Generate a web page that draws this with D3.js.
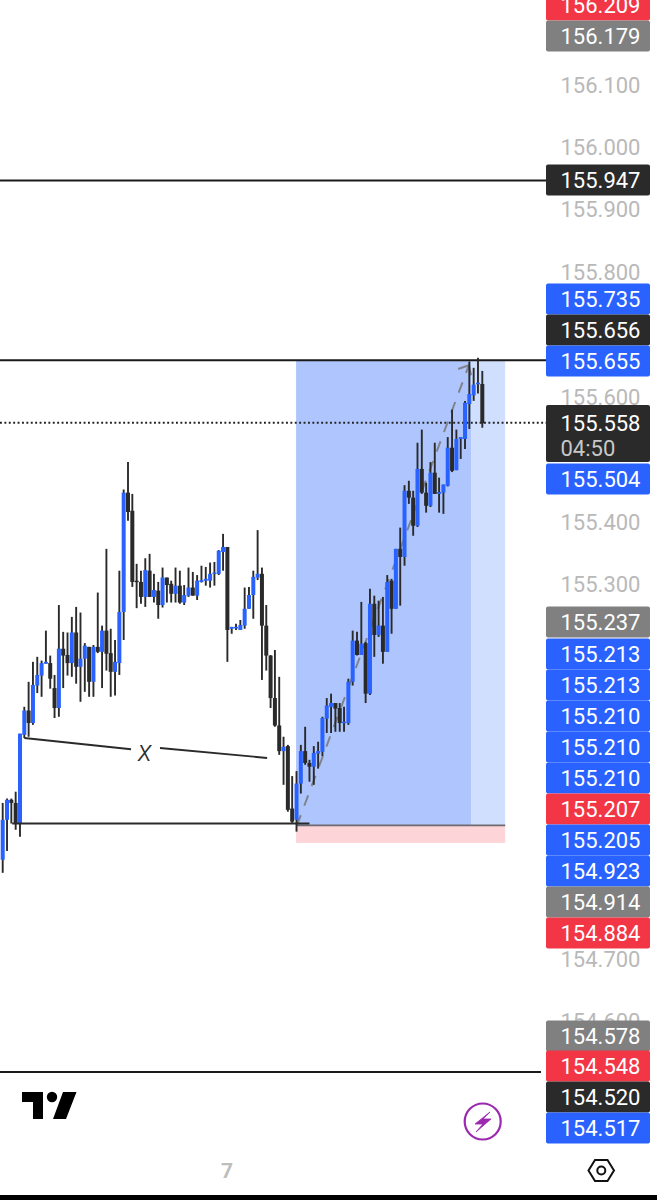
<!DOCTYPE html>
<html><head><meta charset="utf-8">
<script src="https://d3js.org/d3.v7.min.js"></script>
<style>html,body{margin:0;padding:0;background:#fff}svg{display:block}</style>
</head><body><div id="chart"></div>
<script>
// candle series: open, high, low, close
const opens=[154.859,154.923,154.955,154.950,154.917,155.059,155.098,155.078,155.138,155.154,155.173,155.174,155.134,155.102,155.197,155.187,155.174,155.223,155.168,155.181,155.200,155.144,155.200,155.192,155.226,155.190,155.160,155.174,155.256,155.447,155.418,155.306,155.304,155.280,155.322,155.280,155.290,155.267,155.311,155.301,155.285,155.298,155.271,155.282,155.295,155.282,155.304,155.306,155.306,155.317,155.317,155.352,155.360,155.229,155.231,155.227,155.234,155.261,155.283,155.311,155.317,155.234,155.186,155.118,155.074,155.033,155.041,154.941,154.923,154.981,155.033,155.014,155.008,155.029,155.032,155.085,155.104,155.110,155.102,155.078,155.078,155.144,155.210,155.187,155.206,155.125,155.269,155.219,155.234,155.192,155.306,155.261,155.357,155.344,155.450,155.439,155.394,155.485,155.447,155.426,155.479,155.445,155.447,155.458,155.519,155.483,155.533,155.533,155.589,155.603,155.621,155.621];
const highs=[154.950,154.957,154.957,154.968,155.061,155.104,155.144,155.176,155.184,155.178,155.226,155.186,155.155,155.267,155.224,155.223,155.248,155.264,155.255,155.206,155.200,155.203,155.287,155.234,155.357,155.229,155.211,155.322,155.452,155.496,155.445,155.333,155.322,155.342,155.349,155.317,155.304,155.327,155.311,155.306,155.327,155.322,155.299,155.327,155.320,155.315,155.330,155.328,155.335,155.336,155.355,155.381,155.360,155.232,155.237,155.243,155.295,155.296,155.322,155.387,155.327,155.267,155.187,155.195,155.152,155.056,155.043,154.993,155.001,155.043,155.072,155.019,155.041,155.048,155.088,155.118,155.125,155.110,155.110,155.104,155.149,155.226,155.224,155.272,155.208,155.293,155.282,155.274,155.280,155.315,155.309,155.357,155.391,155.459,155.466,155.450,155.527,155.548,155.463,155.496,155.527,155.471,155.460,155.536,155.580,155.548,155.536,155.594,155.657,155.647,155.663,155.642];
const lows=[154.838,154.873,154.917,154.907,154.896,155.054,155.056,155.075,155.126,155.120,155.173,155.133,155.086,155.088,155.134,155.154,155.152,155.141,155.112,155.128,155.120,155.120,155.190,155.134,155.162,155.120,155.122,155.155,155.211,155.402,155.296,155.262,155.269,155.264,155.280,155.271,155.245,155.263,155.271,155.271,155.271,155.269,155.267,155.280,155.282,155.275,155.303,155.298,155.295,155.298,155.315,155.322,155.176,155.221,155.227,155.227,155.229,155.261,155.245,155.307,155.147,155.162,155.102,155.072,155.027,154.979,154.936,154.918,154.904,154.965,155.011,154.984,154.979,155.005,155.025,155.062,155.062,155.064,155.064,155.064,155.075,155.138,155.186,155.187,155.110,155.123,155.184,155.216,155.173,155.192,155.221,155.261,155.266,155.330,155.429,155.378,155.392,155.445,155.415,155.424,155.445,155.415,155.413,155.457,155.480,155.483,155.501,155.517,155.549,155.594,155.606,155.551];
const closes=[154.923,154.955,154.950,154.917,155.061,155.098,155.078,155.139,155.155,155.174,155.176,155.149,155.102,155.197,155.186,155.174,155.223,155.168,155.181,155.202,155.144,155.200,155.192,155.226,155.189,155.160,155.176,155.256,155.447,155.416,155.304,155.304,155.280,155.323,155.280,155.291,155.267,155.311,155.299,155.285,155.298,155.271,155.283,155.295,155.282,155.306,155.307,155.309,155.317,155.319,155.354,155.360,155.227,155.232,155.232,155.235,155.261,155.283,155.312,155.317,155.234,155.186,155.118,155.074,155.033,155.040,154.939,154.920,154.981,155.033,155.014,155.008,155.030,155.033,155.086,155.106,155.110,155.101,155.078,155.080,155.144,155.210,155.187,155.205,155.125,155.269,155.219,155.234,155.192,155.304,155.261,155.357,155.344,155.450,155.439,155.394,155.485,155.447,155.426,155.479,155.445,155.448,155.460,155.519,155.482,155.533,155.536,155.591,155.605,155.620,155.623,155.558];

// price axis
const axisTicks=[156.1,156.0,155.9,155.8,155.6,155.4,155.3,154.7,154.6];
// price tags: value, colour key, slot
const tagValues=[156.209,156.179,155.947,155.735,155.656,155.655,155.558,155.504,155.237,155.213,155.213,155.210,155.210,155.210,155.207,155.205,154.923,154.914,154.884,154.578,154.548,154.520,154.517];
const tagKinds=["red","gray","black","blue","black","blue","black","blue","gray","blue","blue","blue","blue","blue","red","blue","blue","gray","red","gray","red","black","blue"];
const tagCentres=[5,36,180,299,330,361,423,479,622,654,685,716,747,778,809,840,871,902,933,1036,1066,1097,1128];
const countdown="04:50";

// horizontal levels
const levelPrices=[155.947,155.659,154.519];
const lastPrice=155.559;
// long position tool
const posStart=67.9, posNow=108.4, posEnd=116.3;
const posTop=155.659, posEntry=154.914, posStop=154.886;
// support line under the swing
const supportPrice=154.917, supportFrom=2.2, supportTo=71;
// "X" measure lines: [index, price]
const measureA=[[5,155.054],[29.7,155.036]];
const measureB=[[36.4,155.038],[61.2,155.022]];
const measureLabelAt=[32.9,155.031];
// dashed projection: [index, price]
const projection=[[68.1,154.914],[107.9,155.651]];
const headA=[[105.4,155.645],[107.9,155.651]];
const headB=[[108.4,155.635],[107.9,155.651]];

const W=657,H=1200;
const BLUE="#2962ff",DARK="#2a2a2a";
const FONT="Roboto, sans-serif";
const tagColor={red:"#f23645",gray:"#808080",black:"#2a2a2a",blue:"#2962ff"};
const x=d3.scaleLinear().domain([0,111]).range([2.7,482.3]);
const y=d3.scaleLinear().domain([156.1,154.7]).range([85,959]);
const svg=d3.select("#chart").append("svg").attr("width",W).attr("height",H).attr("viewBox",[0,0,W,H]);

// position tool
svg.append("rect").attr("x",x(posStart)).attr("y",y(posTop)).attr("width",x(posNow)-x(posStart)).attr("height",y(posEntry)-y(posTop)).attr("fill","#aec6fd");
svg.append("rect").attr("x",x(posNow)).attr("y",y(posTop)).attr("width",x(posEnd)-x(posNow)).attr("height",y(posEntry)-y(posTop)).attr("fill","#d1dffe");
svg.append("rect").attr("x",x(posStart)).attr("y",y(posEntry)).attr("width",x(posEnd)-x(posStart)).attr("height",y(posStop)-y(posEntry)).attr("fill","#fdd4d7");
svg.append("line").attr("x1",x(posStart)).attr("x2",x(posEnd)).attr("y1",y(posEntry)).attr("y2",y(posEntry)).attr("stroke","#6e6a70").attr("stroke-width",1.8);

// levels
svg.selectAll(".level").data(levelPrices).join("line").attr("class","level")
  .attr("x1",0).attr("x2",(d,i)=>i==2?541:546).attr("y1",d=>y(d)).attr("y2",d=>y(d)).attr("stroke","#1a1a1a").attr("stroke-width",1.9);
svg.append("line").attr("x1",0).attr("x2",546).attr("y1",y(lastPrice)).attr("y2",y(lastPrice))
  .attr("stroke","#222").attr("stroke-width",1.9).attr("stroke-dasharray","1.9 2.5");

const ln=d3.line().x(d=>x(d[0])).y(d=>y(d[1]));
// projection
[projection,headA,headB].forEach((p,i)=>svg.append("path").attr("d",ln(p)).attr("fill","none")
  .attr("stroke","#80838c").attr("stroke-width",2).attr("stroke-dasharray",i?null:"11 10"));

// candles
const idx=d3.range(opens.length);
svg.append("g").selectAll("line").data(idx).join("line")
  .attr("x1",i=>x(i)).attr("x2",i=>x(i)).attr("y1",i=>y(highs[i])).attr("y2",i=>y(lows[i]))
  .attr("stroke",DARK).attr("stroke-width",1.9);
svg.append("g").selectAll("rect").data(idx).join("rect")
  .attr("x",i=>x(i)-2).attr("width",4)
  .attr("y",i=>Math.min(y(opens[i]),y(closes[i])))
  .attr("height",i=>Math.max(1.5,Math.abs(y(opens[i])-y(closes[i]))))
  .attr("fill",i=>closes[i]>=opens[i]?BLUE:DARK);

// support and measure
svg.append("line").attr("x1",x(supportFrom)).attr("x2",x(supportTo)).attr("y1",y(supportPrice)).attr("y2",y(supportPrice)).attr("stroke","#2a2a2a").attr("stroke-width",1.9);
[measureA,measureB].forEach(p=>svg.append("path").attr("d",ln(p)).attr("fill","none").attr("stroke","#2a2a2a").attr("stroke-width",1.8));
svg.append("text").attr("x",x(measureLabelAt[0])).attr("y",y(measureLabelAt[1])).attr("dy","0.3em").attr("text-anchor","middle")
  .attr("font-family",FONT).attr("font-size",29).attr("font-weight",300).attr("font-style","italic").attr("fill","#2a2a2a").text("x");

// axis labels
const axis=d3.axisRight(y).tickValues(axisTicks).tickFormat(d3.format(".3f")).tickSize(0).tickPadding(0);
const ag=svg.append("g").attr("transform","translate(560.5,0)").call(axis);
ag.select(".domain").remove();
ag.selectAll("text").attr("dy","0.32em").attr("font-family",FONT).attr("font-size",22).attr("fill","#b9b9b9");

// tags
const tg=svg.append("g").selectAll("g").data(tagValues).join("g");
tg.append("rect").attr("x",546).attr("width",104).attr("rx",2)
  .attr("y",(d,i)=>tagCentres[i]-(i==6?18:15.5)).attr("height",(d,i)=>i==6?57:31)
  .attr("fill",(d,i)=>tagColor[tagKinds[i]]);
tg.append("text").attr("x",560.5).attr("y",(d,i)=>tagCentres[i]).attr("dy","0.37em")
  .attr("font-family",FONT).attr("font-size",22).attr("fill","#fff").text(d=>d.toFixed(3));
svg.append("text").attr("x",560.5).attr("y",tagCentres[6]+25).attr("dy","0.37em").attr("font-family",FONT).attr("font-size",22).attr("fill","#c8c8c8").text(countdown);

// logo
svg.append("path").attr("d","M22 1092H43V1119H33V1102H22Z M63 1092H76.5L66 1119H53Z").attr("fill","#000");
svg.append("circle").attr("cx",52).attr("cy",1097).attr("r",5.2).attr("fill","#000");
// bolt button
svg.append("circle").attr("cx",482.7).attr("cy",1121.5).attr("r",18).attr("fill","#fff").attr("stroke","#9c27b0").attr("stroke-width",2.2);
svg.append("path").attr("d","M490 1112L475 1124H483L476 1132L491 1119H483Z").attr("fill","#9c27b0").attr("stroke","#9c27b0").attr("stroke-width",0.8);
// footer
svg.append("text").attr("x",227).attr("y",1170).attr("dy","0.36em").attr("text-anchor","middle").attr("font-family",FONT).attr("font-weight",700).attr("font-size",21).attr("fill","#bdbdbd").text("7");
svg.append("path").attr("d","M595 1160H607.5L614 1170.5L607.5 1181H595L588.5 1170.5Z").attr("fill","#fff").attr("stroke","#111").attr("stroke-width",2);
svg.append("circle").attr("cx",601.3).attr("cy",1170.5).attr("r",4).attr("fill","#fff").attr("stroke","#111").attr("stroke-width",2);
svg.append("rect").attr("x",0).attr("y",1195).attr("width",W).attr("height",5).attr("fill","#000");
</script></body></html>
